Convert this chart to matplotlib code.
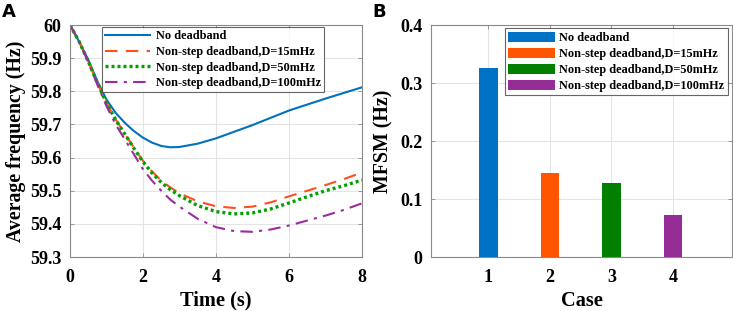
import matplotlib
matplotlib.use("Agg")
import matplotlib.pyplot as plt

# Panel A: average frequency after disturbance
t = [0, 0.25, 0.5, 0.75, 1, 1.25, 1.5, 1.75, 2, 2.25, 2.5, 2.75, 3,
     3.5, 4, 4.5, 5, 5.5, 6, 6.5, 7, 7.5, 8]
f_none = [60, 59.95, 59.895, 59.83, 59.775, 59.735, 59.705, 59.68, 59.66, 59.645,
          59.635, 59.631, 59.632, 59.642, 59.658, 59.678, 59.698, 59.72, 59.742,
          59.76, 59.778, 59.795, 59.812]
f_15 = [60, 59.95, 59.89, 59.825, 59.765, 59.715, 59.673, 59.63, 59.59, 59.558,
        59.53, 59.51, 59.492, 59.468, 59.453, 59.448, 59.452, 59.465, 59.483,
        59.5, 59.517, 59.535, 59.555]
f_50 = [60, 59.95, 59.89, 59.825, 59.765, 59.714, 59.671, 59.628, 59.587, 59.553,
        59.525, 59.503, 59.485, 59.455, 59.437, 59.43, 59.433, 59.445, 59.463,
        59.482, 59.5, 59.515, 59.532]
f_100 = [60, 59.95, 59.888, 59.82, 59.755, 59.7, 59.655, 59.61, 59.565, 59.53,
         59.5, 59.473, 59.452, 59.415, 59.39, 59.378, 59.376, 59.383, 59.395,
         59.41, 59.425, 59.442, 59.462]

# Panel B: MFSM per case
cases = [1, 2, 3, 4]
mfsm = [0.326, 0.144, 0.127, 0.0725]

labels = ["No deadband", "Non-step deadband,D=15mHz",
          "Non-step deadband,D=50mHz", "Non-step deadband,D=100mHz"]
line_colors = ["#0072BD", "#FF4F1A", "#00A000", "#9B2D9B"]
bar_colors = ["#0072C6", "#FF5500", "#007F00", "#962D96"]

plt.rcParams["font.family"] = "Liberation Serif"
plt.rcParams["font.weight"] = "bold"

fig = plt.figure(figsize=(7.33, 3.11), dpi=100)
W, H = 733, 311
axA = fig.add_axes([70 / W, 1 - 257 / H, 292 / W, 232 / H])
axB = fig.add_axes([431 / W, 1 - 257 / H, 301 / W, 232 / H])

axA.plot(t, f_none, color=line_colors[0], lw=1.5, label=labels[0])
axA.plot(t, f_15, color=line_colors[1], lw=1.5, ls=(0, (6, 4)), label=labels[1])
axA.plot(t, f_50, color=line_colors[2], lw=2.4, ls=(0, (0.9, 0.9)), label=labels[2])
axA.plot(t, f_100, color=line_colors[3], lw=1.5, ls=(0, (6, 3, 1.5, 3)), label=labels[3])
axA.set_xlim(0, 8)
axA.set_ylim(59.3, 60)
axA.set_xticks([0, 2, 4, 6, 8])
axA.set_yticks([59.3, 59.4, 59.5, 59.6, 59.7, 59.8, 59.9, 60])
axA.set_yticklabels(["59.3", "59.4", "59.5", "59.6", "59.7", "59.8", "59.9", "60"])
axA.set_xlabel("Time (s)", fontsize=14.7, fontweight="bold", labelpad=3)
axA.set_ylabel("Average frequency (Hz)", fontsize=14.3, fontweight="bold", labelpad=3)
legA = axA.legend(loc="upper left", bbox_to_anchor=(0.108, 0.99), fontsize=8.8,
                  frameon=True, fancybox=False, edgecolor="#404040",
                  handlelength=3.7, borderpad=0.25, labelspacing=0.3,
                  handletextpad=0.5, borderaxespad=0)
legA.get_frame().set_linewidth(0.8)

for c, v, col, lab in zip(cases, mfsm, bar_colors, labels):
    axB.bar(c, v, width=0.3, color=col, label=lab, zorder=3)
axB.set_xlim(0.065, 4.96)
axB.set_ylim(0, 0.4)
axB.set_xticks(cases)
axB.set_yticks([0, 0.1, 0.2, 0.3, 0.4])
axB.set_yticklabels(["0", "0.1", "0.2", "0.3", "0.4"])
axB.set_xlabel("Case", fontsize=14.7, fontweight="bold", labelpad=3)
axB.set_ylabel("MFSM (Hz)", fontsize=14.3, fontweight="bold", labelpad=5)
legB = axB.legend(loc="upper left", bbox_to_anchor=(0.246, 0.985), fontsize=8.8,
                  frameon=True, fancybox=False, edgecolor="#404040",
                  handlelength=3.8, handleheight=0.9, borderpad=0.25,
                  labelspacing=0.32, handletextpad=0.4, borderaxespad=0)
legB.get_frame().set_linewidth(0.8)

for ax in (axA, axB):
    ax.grid(True, color="#E4E4E4", lw=0.8, zorder=0)
    ax.set_axisbelow(True)
    for s in ax.spines.values():
        s.set_color("#8A8A8A")
        s.set_linewidth(0.8)
    ax.tick_params(direction="in", length=3, width=0.6, color="#8A8A8A",
                   labelsize=13, top=True, right=True)
    ax.tick_params(axis="x", pad=9)
    ax.tick_params(axis="y", pad=6)

fig.text(2 / W, 1 - 17 / H, "A", family="DejaVu Sans", fontweight="bold", fontsize=13)
fig.text(372 / W, 1 - 17 / H, "B", family="DejaVu Sans", fontweight="bold", fontsize=13)

fig.savefig("out.png", dpi=100)
